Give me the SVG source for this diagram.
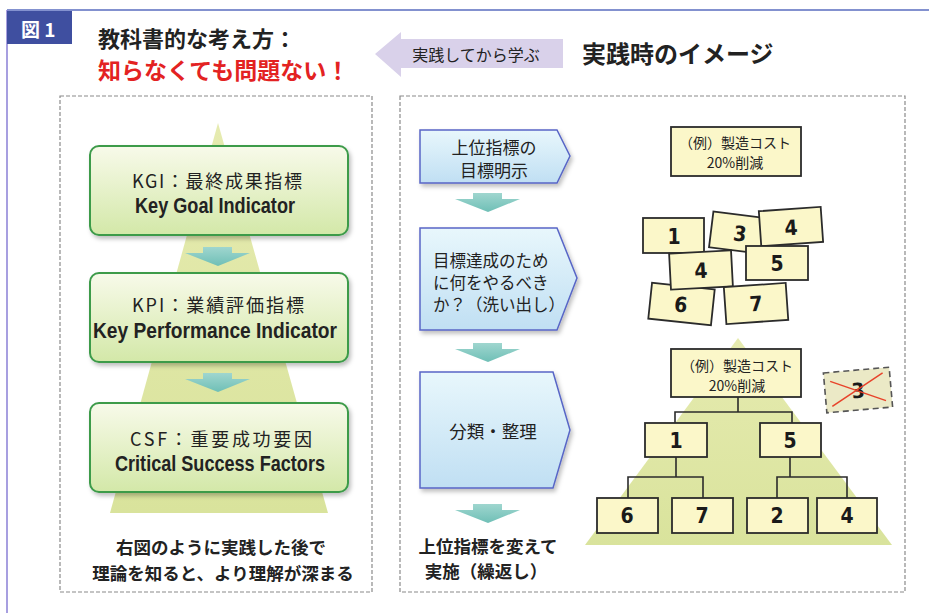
<svg xmlns="http://www.w3.org/2000/svg" width="929" height="613" viewBox="0 0 929 613">
<defs>
<linearGradient id="gBox" x1="0" y1="0" x2="0" y2="1"><stop offset="0" stop-color="#f8faea"/><stop offset="1" stop-color="#d3e8a8"/></linearGradient>
<linearGradient id="bBox" x1="0" y1="0" x2="0" y2="1"><stop offset="0" stop-color="#e8f7fc"/><stop offset="1" stop-color="#c0dff3"/></linearGradient>
<linearGradient id="pyr" x1="0" y1="0" x2="0" y2="1"><stop offset="0" stop-color="#e6ebb0"/><stop offset="1" stop-color="#d9e39c"/></linearGradient>
<linearGradient id="arr" x1="0" y1="0" x2="0" y2="1"><stop offset="0" stop-color="#9fd6cf"/><stop offset="1" stop-color="#6fbfb6"/></linearGradient>
<filter id="sh" x="-10%" y="-10%" width="125%" height="130%"><feDropShadow dx="2" dy="3" stdDeviation="2" flood-color="#000" flood-opacity="0.25"/></filter>
<polygon id="dn" points="-15,0 14,0 14,6 32,6 0,19 -33,6 -15,6" fill="url(#arr)"/>
</defs>
<style>
.jp{font-family:"Noto Sans CJK JP","Noto Sans",sans-serif;}
.en{font-family:"Liberation Sans",Arial,sans-serif;font-weight:bold;}
.num{font-family:"DejaVu Sans","Liberation Sans",sans-serif;font-weight:bold;font-stretch:condensed;font-size:21px;text-anchor:middle;fill:#1a1a1a;}
.frame{fill:none;stroke:#8a8a8a;stroke-width:1.2;stroke-dasharray:4 2;}
.gbox{fill:url(#gBox);stroke:#3d9b4a;stroke-width:2;}
.bbox{fill:url(#bBox);stroke:#5866c6;stroke-width:1.5;}
.card{fill:#fbf7c9;stroke:#2b2b2b;stroke-width:1.8;}
.con{fill:none;stroke:#2b2b2b;stroke-width:1.6;}
</style>

<!-- outer frame -->
<g id="frame">
<line x1="7" y1="10" x2="929" y2="10" stroke="#5a6cbf" stroke-width="1.5"/>
<line x1="7" y1="10" x2="7" y2="613" stroke="#8a7fd6" stroke-width="1.5"/>
<rect x="7" y="11" width="65" height="33" fill="#3f4fa0"/>
<text x="21" y="37" class="jp" font-size="19" font-weight="bold" fill="#ffffff">図 1</text>
</g>

<!-- titles -->
<g id="titles">
<text x="98" y="47" class="jp" font-size="22" font-weight="bold" fill="#222">教科書的な考え方：</text>
<text x="98" y="79" class="jp" font-size="23" font-weight="bold" fill="#e32222">知らなくても問題ない！</text>
<polygon points="375,54 401,32 401,39 563,39 563,68 401,68 401,77" fill="#d9d1ea"/>
<text x="476" y="61" class="jp" font-size="16" fill="#222" text-anchor="middle">実践してから学ぶ</text>
<text x="582" y="63" class="jp" font-size="24" font-weight="bold" fill="#222">実践時のイメージ</text>
</g>

<!-- left panel -->
<g id="leftPanel">
<rect x="60" y="96" width="312" height="496" class="frame"/>
<polygon points="218,123 328,513 110,513" fill="url(#pyr)"/>
</g>

<g id="kgi">
<rect x="90" y="146" width="258" height="89" rx="9" class="gbox" filter="url(#sh)"/>
<text x="217" y="188" class="jp" font-size="18" fill="#222" text-anchor="middle" textLength="170" lengthAdjust="spacing">KGI：最終成果指標</text>
<text x="215" y="213" class="en" font-size="22" fill="#222" text-anchor="middle" textLength="160" lengthAdjust="spacingAndGlyphs">Key Goal Indicator</text>
</g>
<g id="kpi">
<rect x="90" y="273" width="258" height="89" rx="9" class="gbox" filter="url(#sh)"/>
<text x="218" y="312" class="jp" font-size="18" fill="#222" text-anchor="middle" textLength="172" lengthAdjust="spacing">KPI：業績評価指標</text>
<text x="215" y="338" class="en" font-size="22" fill="#222" text-anchor="middle" textLength="244" lengthAdjust="spacingAndGlyphs">Key Performance Indicator</text>
</g>
<g id="csf">
<rect x="90" y="403" width="258" height="89" rx="9" class="gbox" filter="url(#sh)"/>
<text x="221" y="446" class="jp" font-size="18" fill="#222" text-anchor="middle" textLength="182" lengthAdjust="spacing">CSF：重要成功要因</text>
<text x="220" y="471" class="en" font-size="22" fill="#222" text-anchor="middle" textLength="210" lengthAdjust="spacingAndGlyphs">Critical Success Factors</text>
</g>
<g id="leftNote">
<text x="221" y="554" class="jp" font-size="17.5" font-weight="bold" fill="#222" text-anchor="middle">右図のように実践した後で</text>
<text x="223" y="580" class="jp" font-size="17.5" font-weight="bold" fill="#222" text-anchor="middle">理論を知ると、より理解が深まる</text>
</g>

<!-- right panel -->
<g id="rightPanel">
<rect x="400" y="96" width="505" height="496" class="frame"/>
<polygon points="738,338 892,545 585,545" fill="url(#pyr)"/>
</g>

<g id="step1">
<polygon points="420,130 557,130 570,156 557,183 420,183" class="bbox" filter="url(#sh)"/>
<text x="494" y="154" class="jp" font-size="17" fill="#222" text-anchor="middle">上位指標の</text>
<text x="494" y="177" class="jp" font-size="17" fill="#222" text-anchor="middle">目標明示</text>
</g>
<g id="step2">
<polygon points="420,228 557,228 577,278 557,330 420,330" class="bbox" filter="url(#sh)"/>
<text x="433" y="267" class="jp" font-size="16.5" fill="#222">目標達成のため</text>
<text x="433" y="289" class="jp" font-size="16.5" fill="#222">に何をやるべき</text>
<text x="433" y="311" class="jp" font-size="16.5" fill="#222">か？（洗い出し）</text>
</g>
<g id="step3">
<polygon points="420,372 553,372 570,430 553,488 420,488" class="bbox" filter="url(#sh)"/>
<text x="493" y="438" class="jp" font-size="17.5" fill="#222" text-anchor="middle">分類・整理</text>
</g>
<g id="rightNote">
<text x="488" y="553" class="jp" font-size="17.5" font-weight="bold" fill="#222" text-anchor="middle">上位指標を変えて</text>
<text x="486" y="578" class="jp" font-size="17.5" font-weight="bold" fill="#222" text-anchor="middle">実施（繰返し）</text>
</g>

<!-- goal box (top) -->
<g id="goalTop">
<rect x="671" y="127" width="130" height="49" class="card"/>
<text x="735" y="148" class="jp" font-size="14" fill="#222" text-anchor="middle">（例）製造コスト</text>
<text x="735" y="168" class="jp" font-size="14" fill="#222" text-anchor="middle">20%削減</text>
</g>

<!-- scattered cards -->
<g id="card1" transform="translate(674,236)"><rect x="-31" y="-18" width="61" height="35" class="card"/><text y="8" class="num">1</text></g>
<g id="card3" transform="translate(740,233) rotate(7)"><rect x="-29" y="-18" width="58" height="36" class="card"/><text y="8" class="num">3</text></g>
<g id="card4a" transform="translate(791,227) rotate(-4)"><rect x="-31" y="-18" width="62" height="35" class="card"/><text y="8" class="num">4</text></g>
<g id="card5a" transform="translate(777,263)"><rect x="-31" y="-17" width="62" height="34" class="card"/><text y="8" class="num">5</text></g>
<g id="card6a" transform="translate(681,304) rotate(6)"><rect x="-31" y="-18" width="63" height="36" class="card"/><text y="8" class="num">6</text></g>
<g id="card4b" transform="translate(701,270) rotate(-3)"><rect x="-31" y="-18" width="62" height="36" class="card"/><text y="8" class="num">4</text></g>
<g id="card7a" transform="translate(756,303) rotate(-4)"><rect x="-31" y="-18" width="62" height="37" class="card"/><text y="8" class="num">7</text></g>

<!-- tree -->
<g id="connectors">
<use href="#dn" x="218" y="247"/>
<use href="#dn" x="218" y="373"/>
<use href="#dn" x="488" y="193"/>
<use href="#dn" x="488" y="343"/>
<use href="#dn" x="488" y="504"/>
<path class="con" d="M738,397 V412 M675,423 V412 H792 V423"/>
<path class="con" d="M676,457 V477 M628,498 V477 H703 V498"/>
<path class="con" d="M790,457 V477 M777,498 V477 H847 V498"/>
</g>
<g id="goalTree">
<rect x="671" y="349" width="130" height="48" class="card"/>
<text x="737" y="371" class="jp" font-size="14" fill="#222" text-anchor="middle">（例）製造コスト</text>
<text x="737" y="391" class="jp" font-size="14" fill="#222" text-anchor="middle">20%削減</text>
</g>
<g id="t1"><rect x="645" y="423" width="62" height="34" class="card"/><text x="676" y="448" class="num">1</text></g>
<g id="t5"><rect x="760" y="423" width="61" height="34" class="card"/><text x="790" y="448" class="num">5</text></g>
<g id="t6"><rect x="597" y="498" width="61" height="35" class="card"/><text x="627" y="523" class="num">6</text></g>
<g id="t7"><rect x="672" y="498" width="61" height="35" class="card"/><text x="702" y="523" class="num">7</text></g>
<g id="t2"><rect x="747" y="498" width="61" height="35" class="card"/><text x="777" y="523" class="num">2</text></g>
<g id="t4"><rect x="817" y="498" width="60" height="35" class="card"/><text x="847" y="523" class="num">4</text></g>
<g id="removed3" transform="translate(858,390) rotate(-5)">
<rect x="-33" y="-20" width="66" height="40" fill="#ebe9c6" stroke="#555" stroke-width="1.6" stroke-dasharray="6 4"/>
<text y="8" class="num">3</text>
<line x1="-27" y1="-11" x2="27" y2="13" stroke="#e8432a" stroke-width="1.5"/>
<line x1="-27" y1="14" x2="26" y2="-15" stroke="#e8432a" stroke-width="1.5"/>
</g>
</svg>
